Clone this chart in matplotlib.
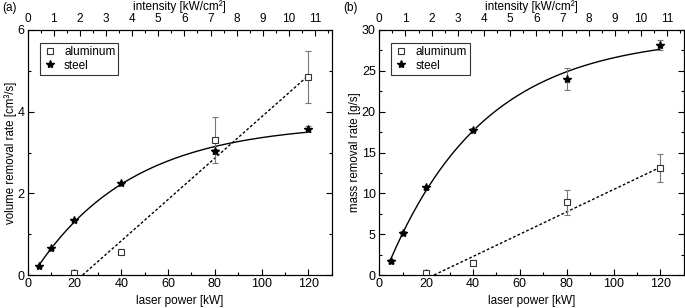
import numpy as np
import matplotlib
matplotlib.use("Agg")
import matplotlib.pyplot as plt

plt.rcParams['font.family'] = ['Liberation Sans', 'DejaVu Sans']
plt.rcParams['font.size'] = 9

# laser power [kW]
power_steel = np.array([5, 10, 20, 40, 80, 120])
power_al = np.array([20, 40, 80, 120])

# (a) volume removal rate [cm^3/s]
vol_steel = np.array([0.22, 0.65, 1.35, 2.25, 3.03, 3.57])
vol_steel_err = np.array([0.03, 0.03, 0.03, 0.03, 0.06, 0.07])
vol_al = np.array([0.05, 0.56, 3.30, 4.85])
vol_al_err = np.array([0.05, 0.05, 0.56, 0.63])
# linear fit for aluminum: (zero crossing [kW], slope)
vol_al_fit = (23.5, 0.0506)

# (b) mass removal rate [g/s]
mass_steel = np.array([1.7, 5.2, 10.75, 17.8, 24.0, 28.2])
mass_steel_err = np.array([0.2, 0.2, 0.2, 0.2, 1.35, 0.6])
mass_al = np.array([0.2, 1.5, 8.9, 13.1])
mass_al_err = np.array([0.2, 0.3, 1.55, 1.7])
mass_al_fit = (23.4, 0.1366)

# kW per kW/cm^2 (beam area ~11.2 cm^2)
area = 11.17


def exp_fit(x, y):
    # y = A - B*exp(-x/t), grid search on t, linear least squares for A, B
    best = None
    for t in np.linspace(10, 200, 800):
        M = np.column_stack([np.ones_like(x, dtype=float), -np.exp(-x / t)])
        coef = np.linalg.lstsq(M, y, rcond=None)[0]
        r = np.sum((M @ coef - y) ** 2)
        if best is None or r < best[0]:
            best = (r, coef[0], coef[1], t)
    _, A, B, t = best
    return lambda xx: A - B * np.exp(-xx / t)


def style_axes(ax, ymax, ymajor, yminor, ylabel):
    ax.set_xlim(0, 130)
    ax.set_ylim(0, ymax)
    ax.set_xticks(np.arange(0, 121, 20))
    ax.set_xticks(np.arange(0, 131, 10), minor=True)
    ax.set_yticks(np.arange(0, ymax + 0.01, ymajor))
    ax.set_yticks(np.arange(0, ymax + 0.01, yminor), minor=True)
    ax.tick_params(which='both', direction='in', right=True, width=0.8)
    ax.tick_params(which='major', length=4)
    ax.tick_params(which='minor', length=2)
    ax.tick_params(axis='x', pad=2.5)
    ax.tick_params(axis='y', pad=2.5)
    ax.set_xlabel('laser power [kW]', fontsize=8.5, labelpad=3)
    ax.set_ylabel(ylabel, fontsize=8.3, labelpad=0.5)
    for s in ax.spines.values():
        s.set_linewidth(0.8)
    top = ax.twiny()
    top.set_xlim(0, 130 / area)
    top.set_xticks(np.arange(0, 12, 1))
    top.set_xticks(np.arange(0, 11.6, 0.5), minor=True)
    top.tick_params(which='both', direction='in', width=0.8, pad=3.5,
                    labelsize=8.5)
    top.tick_params(which='major', length=4)
    top.tick_params(which='minor', length=2)
    # axis title placed by hand just under the figure's top edge
    pos = ax.get_position()
    ax.figure.text(pos.x0 + pos.width / 2, 0.999, 'intensity [kW/cm²]',
                   ha='center', va='top', fontsize=8.5)


def panel(ax, ys, ys_err, ya, ya_err, al_fit, ymax, ymajor, yminor, ylabel):
    xs = np.linspace(power_steel[0], power_steel[-1], 200)
    f = exp_fit(power_steel.astype(float), ys)
    ax.plot(xs, f(xs), color='black', lw=1.0)
    x0, slope = al_fit
    xa = np.array([x0, power_al[-1]])
    ax.plot(xa, slope * (xa - x0), color='black', lw=1.0, ls=(0, (2, 1.5)))
    ax.errorbar(power_al, ya, yerr=ya_err, fmt='none', ecolor='#777777',
                elinewidth=0.8, capsize=2.5, capthick=0.8, zorder=3)
    ax.errorbar(power_steel, ys, yerr=ys_err, fmt='none', ecolor='#777777',
                elinewidth=0.8, capsize=2.5, capthick=0.8, zorder=3)
    ax.plot(power_al, ya, 's', ms=4.5, mfc='white', mec='#333333', mew=0.8,
            label='aluminum', zorder=4)
    ax.plot(power_steel, ys, '*', ms=6, color='black', label='steel', zorder=4)
    leg = ax.legend(loc='upper left', bbox_to_anchor=(0.04, 0.945),
                    frameon=True, fancybox=False, edgecolor='#333333',
                    framealpha=1, handlelength=1.2, handletextpad=0.6,
                    borderpad=0.25, labelspacing=0.1, borderaxespad=0,
                    fontsize=8.5)
    leg.get_frame().set_linewidth(0.8)
    style_axes(ax, ymax, ymajor, yminor, ylabel)


fig = plt.figure(figsize=(6.85, 3.08), dpi=100)
ax1 = fig.add_axes([0.0404, 0.1071, 0.4438, 0.7955])
ax2 = fig.add_axes([0.5537, 0.1071, 0.4445, 0.7955])

panel(ax1, vol_steel, vol_steel_err, vol_al, vol_al_err, vol_al_fit, 6, 2, 1,
      'volume removal rate [cm³/s]')
panel(ax2, mass_steel, mass_steel_err, mass_al, mass_al_err, mass_al_fit,
      30, 5, 2.5, 'mass removal rate [g/s]')

fig.text(0.003, 0.995, '(a)', ha='left', va='top', fontsize=8.5)
fig.text(0.501, 0.995, '(b)', ha='left', va='top', fontsize=8.5)

fig.savefig('out.png', dpi=100)
